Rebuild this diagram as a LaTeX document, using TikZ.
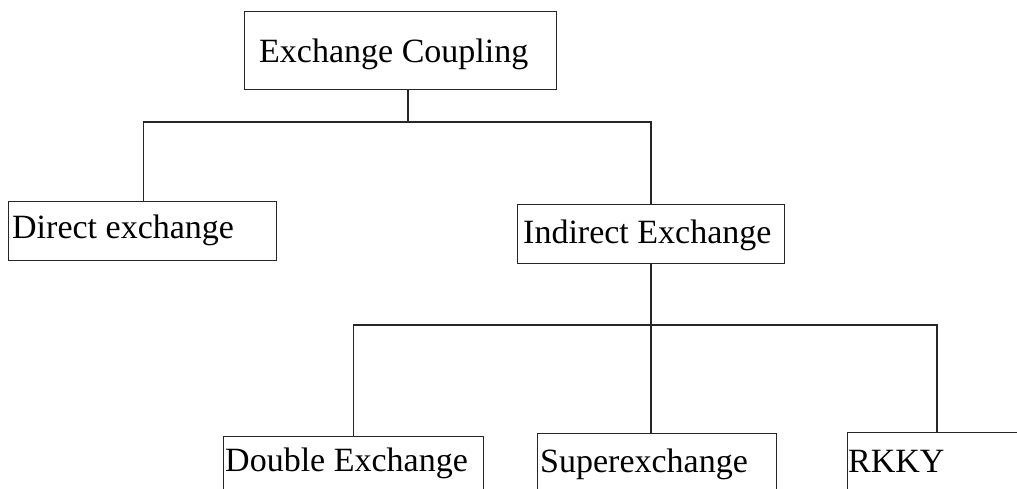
\documentclass[tikz,border=0pt]{standalone}
\usepackage{fontspec}
\setmainfont{Liberation Serif}
\begin{document}
\begin{tikzpicture}[x=1pt,y=-1pt,
  box/.style={draw=black!85, line width=1.2pt, rectangle, inner sep=0pt, anchor=north west},
  lbl/.style={anchor=base west, inner sep=0pt, font=\fontsize{34}{40}\selectfont},
  conn/.style={draw=black!85, line width=1.2pt}]
\useasboundingbox (0,0) rectangle (1017,488);
\clip (0,0) rectangle (1017,488);
% boxes
\node[box, minimum width=312pt, minimum height=78pt] (top) at (244,11) {};
\node[box, minimum width=268pt, minimum height=59pt] (direct) at (8,201) {};
\node[box, minimum width=267pt, minimum height=59pt] (indirect) at (517,204) {};
\node[box, minimum width=260pt, minimum height=100pt] (double) at (223,436) {};
\node[box, minimum width=239pt, minimum height=100pt] (super) at (537,433) {};
\node[box, minimum width=180pt, minimum height=100pt] (rkky) at (847,432) {};
% texts
\node[lbl] (ttop) at (259,62) {Exchange Coupling};
\node[lbl] (tdirect) at (12,238) {Direct exchange};
\node[lbl] (tindirect) at (523,243) {Indirect Exchange};
\node[lbl] (tdouble) at (225,471) {Double Exchange};
\node[lbl] (tsuper) at (540,472) {Superexchange};
\node[lbl] (trkky) at (848,472) {RKKY};
% connectors
\coordinate (j1) at (408,122);
\coordinate (j2) at (651,325);
\draw[conn] (j1) -- (j1 |- top.south);
\draw[conn] ([xshift=1pt]direct.north) |- (j1) -| (j2 |- indirect.north);
\draw[conn] (j2 |- indirect.south) -- (j2);
\draw[conn] (double.north) |- (j2) -| (937,432);
\draw[conn] (j2) -- (j2 |- super.north);
\end{tikzpicture}
\end{document}
